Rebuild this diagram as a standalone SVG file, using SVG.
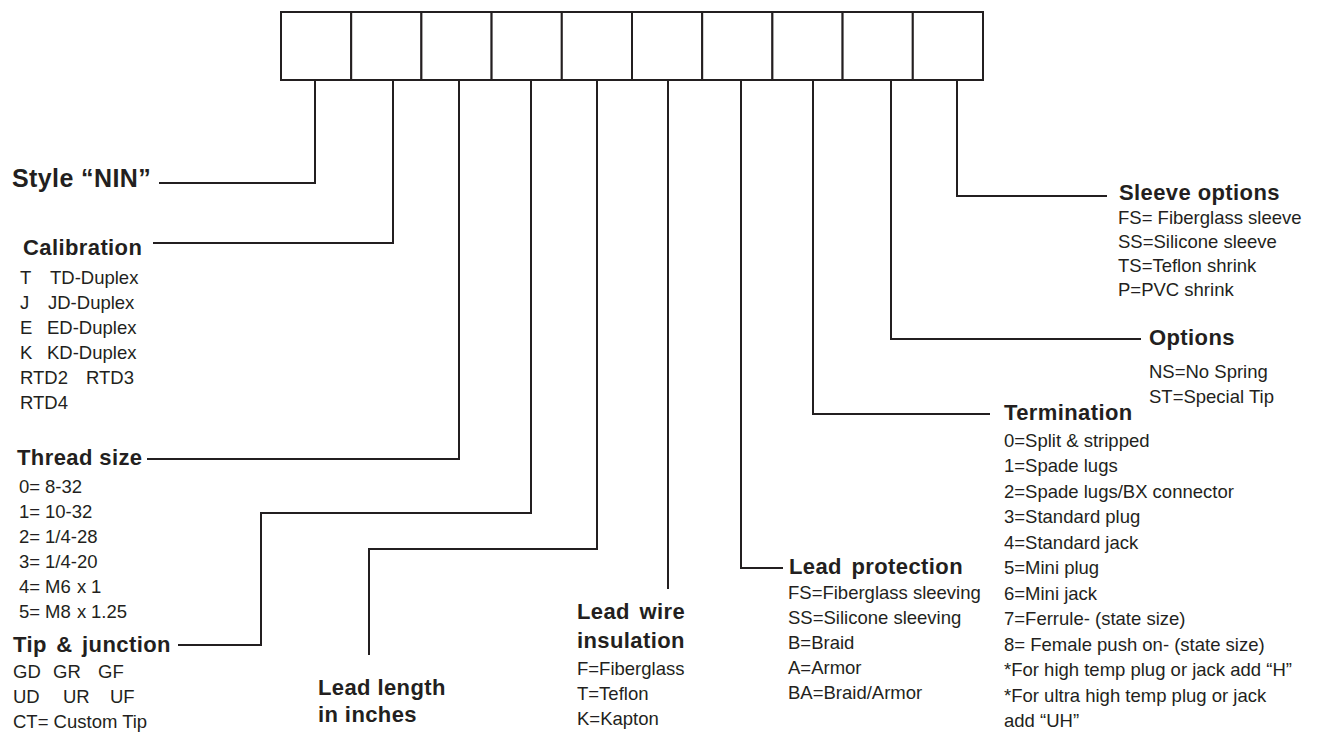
<svg xmlns="http://www.w3.org/2000/svg" width="1321" height="734" viewBox="0 0 1321 734">
<style>
.bx{fill:#fff;stroke:#231f20;stroke-width:2}
.cn{fill:none;stroke:#231f20;stroke-width:2}
.h{font-family:"Liberation Sans",Arial,sans-serif;font-weight:bold;font-size:22px;letter-spacing:0.4px;fill:#231f20}
.w{word-spacing:3px}
.t{font-family:"Liberation Sans",Arial,sans-serif;font-size:18.5px;fill:#231f20}
</style>
<rect width="1321" height="734" fill="#fff"/>
<g id="code-boxes">
<rect class="bx" x="281" y="12" width="70.2" height="68"/>
<rect class="bx" x="351.2" y="12" width="70.2" height="68"/>
<rect class="bx" x="421.4" y="12" width="70.2" height="68"/>
<rect class="bx" x="491.6" y="12" width="70.2" height="68"/>
<rect class="bx" x="561.8" y="12" width="70.2" height="68"/>
<rect class="bx" x="632" y="12" width="70.2" height="68"/>
<rect class="bx" x="702.2" y="12" width="70.2" height="68"/>
<rect class="bx" x="772.4" y="12" width="70.2" height="68"/>
<rect class="bx" x="842.6" y="12" width="70.2" height="68"/>
<rect class="bx" x="912.8" y="12" width="70.2" height="68"/>
</g>
<g id="connectors">
<path class="cn" d="M315,80 V183 H159"/>
<path class="cn" d="M393,80 V243 H153"/>
<path class="cn" d="M459,80 V459 H147"/>
<path class="cn" d="M531,80 V513 H261 V645 H178"/>
<path class="cn" d="M597,80 V549 H369 V655"/>
<path class="cn" d="M668,80 V589"/>
<path class="cn" d="M741,80 V568 H783"/>
<path class="cn" d="M813,80 V414 H990"/>
<path class="cn" d="M891,80 V339 H1141"/>
<path class="cn" d="M957,80 V196 H1107"/>
</g>
<g id="style">
<text class="h" x="12" y="187" style="font-size:25px">Style “NIN”</text>
</g>
<g id="calibration">
<text class="h" x="23" y="255">Calibration</text>
<text class="t" y="284"><tspan x="20">T</tspan><tspan x="50">TD-Duplex</tspan></text>
<text class="t" y="309"><tspan x="20">J</tspan><tspan x="48">JD-Duplex</tspan></text>
<text class="t" y="334"><tspan x="20">E</tspan><tspan x="47">ED-Duplex</tspan></text>
<text class="t" y="359"><tspan x="20">K</tspan><tspan x="47">KD-Duplex</tspan></text>
<text class="t" y="384"><tspan x="20">RTD2</tspan><tspan x="86">RTD3</tspan></text>
<text class="t" x="20" y="409">RTD4</text>
</g>
<g id="thread-size">
<text class="h" x="17" y="465">Thread size</text>
<text class="t" y="493"><tspan x="19">0=</tspan><tspan x="45">8-32</tspan></text>
<text class="t" y="518"><tspan x="19">1=</tspan><tspan x="45">10-32</tspan></text>
<text class="t" y="543"><tspan x="19">2=</tspan><tspan x="45">1/4-28</tspan></text>
<text class="t" y="568"><tspan x="19">3=</tspan><tspan x="45">1/4-20</tspan></text>
<text class="t" y="593"><tspan x="19">4=</tspan><tspan x="45">M6</tspan><tspan x="77">x</tspan><tspan x="91">1</tspan></text>
<text class="t" y="618"><tspan x="19">5=</tspan><tspan x="45">M8</tspan><tspan x="77">x</tspan><tspan x="91">1.25</tspan></text>
</g>
<g id="tip-junction">
<text class="h w" x="13" y="652">Tip &amp; junction</text>
<text class="t" y="678"><tspan x="13">GD</tspan><tspan x="53">GR</tspan><tspan x="98">GF</tspan></text>
<text class="t" y="703"><tspan x="13">UD</tspan><tspan x="63">UR</tspan><tspan x="110">UF</tspan></text>
<text class="t" x="13" y="728">CT= Custom Tip</text>
</g>
<g id="lead-length">
<text class="h" x="318" y="695">Lead length</text>
<text class="h" x="318" y="722">in inches</text>
</g>
<g id="lead-wire-insulation">
<text class="h w" x="577" y="619">Lead wire</text>
<text class="h" x="577" y="648">insulation</text>
<text class="t" x="577" y="675">F=Fiberglass</text>
<text class="t" x="577" y="700">T=Teflon</text>
<text class="t" x="577" y="725">K=Kapton</text>
</g>
<g id="lead-protection">
<text class="h w" x="789" y="574">Lead protection</text>
<text class="t" x="788" y="599">FS=Fiberglass sleeving</text>
<text class="t" x="788" y="624">SS=Silicone sleeving</text>
<text class="t" x="788" y="649">B=Braid</text>
<text class="t" x="788" y="674">A=Armor</text>
<text class="t" x="788" y="699">BA=Braid/Armor</text>
</g>
<g id="termination">
<text class="h" x="1004" y="420">Termination</text>
<text class="t" x="1004" y="447">0=Split &amp; stripped</text>
<text class="t" x="1004" y="472">1=Spade lugs</text>
<text class="t" x="1004" y="498">2=Spade lugs/BX connector</text>
<text class="t" x="1004" y="523">3=Standard plug</text>
<text class="t" x="1004" y="549">4=Standard jack</text>
<text class="t" x="1004" y="574">5=Mini plug</text>
<text class="t" x="1004" y="600">6=Mini jack</text>
<text class="t" x="1004" y="625">7=Ferrule- (state size)</text>
<text class="t" x="1004" y="651">8= Female push on- (state size)</text>
<text class="t" x="1004" y="676">*For high temp plug or jack add “H”</text>
<text class="t" x="1004" y="702">*For ultra high temp plug or jack</text>
<text class="t" x="1004" y="727">add “UH”</text>
</g>
<g id="options">
<text class="h" x="1149" y="345">Options</text>
<text class="t" x="1149" y="378">NS=No Spring</text>
<text class="t" x="1149" y="403">ST=Special Tip</text>
</g>
<g id="sleeve-options">
<text class="h" x="1119" y="200">Sleeve options</text>
<text class="t" x="1118" y="224">FS= Fiberglass sleeve</text>
<text class="t" x="1118" y="248">SS=Silicone sleeve</text>
<text class="t" x="1118" y="272">TS=Teflon shrink</text>
<text class="t" x="1118" y="296">P=PVC shrink</text>
</g>
</svg>
